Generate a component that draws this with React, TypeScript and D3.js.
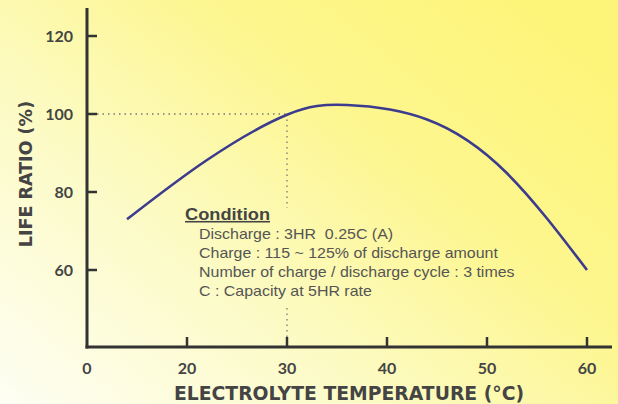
import React from "react";
import * as d3 from "d3";

const temps = [14, 22, 30, 36, 44, 52, 60];
const ratios = [73, 88.2, 99.8, 102.3, 98.6, 84.8, 60];
const xTicks = [20, 30, 40, 50, 60];
const yTicks = [60, 80, 100, 120];
const conditionLines = [
  "Discharge : 3HR  0.25C (A)",
  "Charge : 115 ~ 125% of discharge amount",
  "Number of charge / discharge cycle : 3 times",
  "C : Capacity at 5HR rate",
];

const W = 618;
const H = 404;
const tickFont = "Lato, 'Open Sans', sans-serif";
const titleFont = "'DejaVu Sans', sans-serif";
const noteFont = "'Liberation Sans', Arial, sans-serif";

export default function App() {
  const x = d3.scaleLinear().domain([10, 60]).range([87, 587]);
  const y = d3.scaleLinear().domain([60, 120]).range([270, 36]);
  const x0 = x(10);
  const yBottom = 347;
  const yTop = 8;
  const line = d3
    .line<number>()
    .x((_, i) => x(temps[i]))
    .y((d) => y(d))
    .curve(d3.curveNatural);

  return (
    <svg width={W} height={H} style={{ position: "absolute", left: 0, top: 0 }}>
      <defs>
        <linearGradient id="bg" x1="0" y1="1" x2="1" y2="0.2">
          <stop offset="0" stopColor="#fefef4" />
          <stop offset="0.35" stopColor="#fcfbc8" />
          <stop offset="0.7" stopColor="#fdf68e" />
          <stop offset="1" stopColor="#fdf57a" />
        </linearGradient>
      </defs>
      <rect x={0} y={0} width={W} height={H} fill="url(#bg)" />

      {/* dotted guides */}
      <line x1={x0 + 10} x2={x(30)} y1={y(100)} y2={y(100)} stroke="#777" strokeWidth={1.3} strokeDasharray="1.5 4" />
      <line x1={x(30)} x2={x(30)} y1={y(100)} y2={208} stroke="#777" strokeWidth={1.3} strokeDasharray="1.5 4" />
      <line x1={x(30)} x2={x(30)} y1={308} y2={yBottom - 8} stroke="#777" strokeWidth={1.3} strokeDasharray="1.5 4" />

      {/* axes */}
      <line x1={x0} x2={x0} y1={yTop} y2={yBottom + 1.5} stroke="#333" strokeWidth={3} />
      <line x1={x0 - 1.5} x2={612} y1={yBottom} y2={yBottom} stroke="#333" strokeWidth={3} />
      {yTicks.map((t) => (
        <g key={t}>
          <line x1={x0} x2={x0 + 10} y1={y(t)} y2={y(t)} stroke="#333" strokeWidth={2.5} />
          <text x={73} y={y(t) + 5.5} textAnchor="end" fontFamily={tickFont} fontWeight={700} fontSize={16} fill="#444">
            {t}
          </text>
        </g>
      ))}
      {xTicks.map((t) => (
        <g key={t}>
          <line x1={x(t)} x2={x(t)} y1={yBottom} y2={yBottom - 10} stroke="#333" strokeWidth={2.5} />
          <text x={x(t)} y={374} textAnchor="middle" fontFamily={tickFont} fontWeight={700} fontSize={16} fill="#444">
            {t}
          </text>
        </g>
      ))}
      <text x={x0} y={374} textAnchor="middle" fontFamily={tickFont} fontWeight={700} fontSize={16} fill="#444">
        0
      </text>

      {/* axis titles */}
      <text
        transform={`translate(32,174) rotate(-90)`}
        textAnchor="middle"
        fontFamily={titleFont}
        fontWeight={700}
        fontSize={17.5}
        fill="#444"
      >
        LIFE RATIO (%)
      </text>
      <text x={349} y={400} textAnchor="middle" fontFamily={titleFont} fontWeight={700} fontSize={18.8} fill="#444">
        ELECTROLYTE TEMPERATURE (°C)
      </text>

      {/* curve */}
      <path d={line(ratios) || ""} fill="none" stroke="#3d3b8e" strokeWidth={2.6} />

      {/* condition note */}
      <g transform="translate(185,0) scale(1.14,1)">
        <text x={0} y={220} fontFamily={noteFont} fontWeight={700} fontSize={16} fill="#444" textDecoration="underline">
          Condition
        </text>
      </g>
      <g transform="translate(199,0) scale(1.14,1)">
        {conditionLines.map((s, i) => (
          <text
            key={i}
            x={0}
            y={239.5 + i * 19}
            fontFamily={noteFont}
            fontSize={14}
            fill="#555"
            style={{ whiteSpace: "pre" }}
          >
            {s}
          </text>
        ))}
      </g>
    </svg>
  );
}
